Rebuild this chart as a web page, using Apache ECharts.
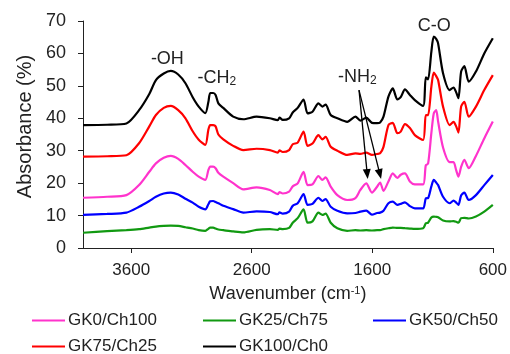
<!DOCTYPE html>
<html>
<head>
<meta charset="utf-8">
<script src="https://cdn.jsdelivr.net/npm/echarts@6/dist/echarts.min.js"></script>
<style>
  html, body { margin: 0; padding: 0; background: #fff; }
  #chart { width: 510px; height: 354px; }
</style>
</head>
<body>
<div id="chart"></div>
<script>
// wavenumbers (cm-1)
const wavenumbers = [4000, 3800, 3640, 3535, 3450, 3395, 3330, 3272, 3210, 3150, 3090, 3040, 2985, 2960, 2945, 2920, 2900, 2877, 2836, 2754,
  2670, 2560, 2450, 2384, 2370, 2343, 2290, 2260, 2219, 2170, 2137, 2096, 2047, 2014, 1987, 1945, 1890, 1808, 1740, 1699,
  1650, 1603, 1560, 1535, 1507, 1466, 1430, 1392, 1364, 1329, 1288, 1247, 1178, 1156, 1137, 1110, 1090, 1070, 1054, 1013,
  958, 926, 904, 885, 863, 836, 800, 740, 671, 600];

const gk0 = [15.5, 15.8, 16.3, 19.4, 23.5, 26.1, 27.8, 28.4, 27.5, 25.6, 23.5, 22, 21, 24, 25.1, 25.1, 24.6, 23.2, 22, 20,
  18.1, 18.7, 17.9, 16.6, 17.2, 16.8, 17.4, 19, 19.9, 23.5, 19.4, 19.6, 22.2, 21, 21.8, 18.9, 16.3, 14.8, 15.4, 17.9,
  19.9, 17.1, 18.9, 20.2, 17.6, 20.5, 23, 21.6, 22.6, 23, 20.5, 19.6, 19.6, 25.5, 26, 35.4, 41.5, 42.5, 39, 31,
  26.5, 26.5, 24, 22, 25, 27.2, 24.6, 28.4, 33.8, 39];

const gk25 = [4.7, 5.2, 5.5, 5.8, 6.3, 6.6, 6.8, 6.9, 6.8, 6.4, 6, 5.5, 5.3, 5.9, 6.3, 6.3, 6, 5.7, 5.5, 5.1,
  4.8, 5.6, 5.8, 5.6, 6, 5.8, 6.2, 7.8, 9.2, 11.9, 7.8, 8.2, 10.9, 10.2, 10.6, 7.8, 6.1, 5.3, 5.5, 5.4,
  5.5, 5.4, 5.5, 5.5, 5.8, 6.1, 6.3, 6.2, 6.2, 6.1, 6, 5.9, 6.1, 7.6, 7.8, 9.4, 9.7, 9.6, 9.5, 8.5,
  8.2, 8.3, 8.1, 7.8, 9.2, 9.3, 9.1, 9.7, 11.2, 13.3];

const gk50 = [10.2, 10.5, 10.9, 12.7, 14.5, 15.8, 16.8, 17.1, 16.5, 15.2, 14, 12.7, 11.9, 13.5, 14.4, 14.5, 14.2, 13.8, 13, 12,
  10.9, 11.3, 11.1, 10.4, 11, 10.6, 11.2, 13, 13.8, 16.6, 13.3, 13.6, 15.5, 14.5, 15.1, 12.7, 11.5, 10.7, 10.8, 11.2,
  11.5, 10.3, 10.8, 10.9, 11.5, 13.8, 14.3, 13.3, 13.6, 14.1, 12.9, 12.2, 12.2, 15.3, 15.4, 19, 21, 20.2, 19.4, 15.8,
  13.8, 14.6, 14, 13.3, 16.2, 17.1, 14.8, 16.3, 19.4, 22.5];

const gk75 = [28.2, 28.3, 28.6, 32.3, 37.5, 41, 43.2, 43.8, 42.5, 40, 36, 33.4, 31.8, 36.5, 37.9, 37.9, 37.5, 35, 33.5, 31.5,
  30.2, 30.6, 30.2, 29.4, 30.1, 29.6, 30.2, 32, 32.5, 35.9, 31.5, 32.2, 34.8, 33.5, 34.3, 31.2, 30, 28.7, 29.2, 29,
  29.4, 28.7, 29, 29.2, 31.2, 37.9, 38.6, 35.4, 35.9, 38.2, 37, 34.8, 33.3, 41, 41, 49.7, 54.1, 53, 51.8, 43.6,
  37.9, 38.9, 37.5, 35.6, 43.6, 45.1, 40.5, 43.6, 48.7, 53.3];

const gk100 = [37.9, 38, 38.4, 42.5, 47.5, 51.8, 53.8, 54.6, 53.5, 50.8, 46.5, 43.6, 41.6, 45, 47.8, 47.8, 47.2, 44.6, 43.2, 40.5,
  39.7, 40.5, 40, 39.4, 40.2, 39.5, 40, 41.8, 43.2, 45.8, 41.5, 42, 44.6, 43.6, 44.2, 41, 40, 38.9, 40.5, 39.3,
  40.2, 38.6, 38.5, 38.7, 40.5, 46.7, 49.2, 45.8, 46.5, 48.9, 47.2, 45.6, 43.8, 52.6, 52, 60.5, 65.2, 64.5, 63.1, 53.9,
  48.7, 49.5, 48, 46.2, 54.4, 56.1, 51.3, 54.4, 60, 64.7];

const seriesNames = ['GK0/Ch100', 'GK25/Ch75', 'GK50/Ch50', 'GK75/Ch25', 'GK100/Ch0'];
const seriesData = [gk0, gk25, gk50, gk75, gk100];
const seriesColors = ['#ff33cc', '#119911', '#0000ff', '#ff0000', '#000000'];

const xTicks = [600, 1600, 2600, 3600];
const yTicks = [0, 10, 20, 30, 40, 50, 60, 70];

// peak labels: [wavenumber, absorbance, text]
const peakLabels = [
    [3300, 58.3, '-OH'],
    [2890, 52.4, '-CH{sub|2}'],
    [1725, 52.7, '-NH{sub|2}'],
    [1085, 68.3, 'C-O']
];
// arrows for -NH2: [from, to]
const nhArrows = [
    [[1710, 48.7], [1642, 22.8]],
    [[1710, 48.7], [1537, 22.8]]
];

const FONT = 'Liberation Sans, Arial, sans-serif';
const TXT = '#222';

const myChart = echarts.init(document.getElementById('chart'));

const legendPos = [[32, 312], [203, 312], [373, 312], [32, 338], [203, 338]];

const series = seriesNames.map((name, i) => ({
    name: name,
    type: 'line',
    data: wavenumbers.map((w, j) => [w, seriesData[i][j]]),
    showSymbol: false,
    smooth: 0.25,
    lineStyle: { color: seriesColors[i], width: 2.2 },
    itemStyle: { color: seriesColors[i] },
    z: 2
}));

// annotations hang on the black series
series[4].markPoint = {
    silent: true,
    symbol: 'circle',
    symbolSize: 0,
    label: {
        show: true,
        position: 'inside',
        color: TXT,
        fontFamily: FONT,
        fontSize: 18,
        formatter: p => p.data.txt,
        rich: {
            sub: { fontSize: 12, fontFamily: FONT, color: TXT, verticalAlign: 'bottom', padding: [8, 0, 0, 0] }
        }
    },
    data: peakLabels.map(p => ({ coord: [p[0], p[1]], txt: p[2] }))
};
series[4].markLine = {
    silent: true,
    symbol: ['none', 'triangle'],
    symbolSize: [8, 10],
    label: { show: false },
    lineStyle: { color: '#000', width: 1.3, type: 'solid' },
    data: nhArrows.map(a => [{ coord: a[0] }, { coord: a[1] }])
};

const option = {
    animation: false,
    backgroundColor: '#fff',
    textStyle: { fontFamily: FONT, color: TXT },
    grid: { left: 83, right: 13, top: 21, bottom: 106 },
    legend: seriesNames.map((name, i) => ({
        data: [name],
        left: legendPos[i][0],
        top: legendPos[i][1],
        padding: 0,
        icon: 'rect',
        itemWidth: 33,
        itemHeight: 2,
        textStyle: { fontSize: 17, color: TXT, fontFamily: FONT, padding: [0, 0, 0, -2] }
    })),
    xAxis: {
        type: 'value',
        inverse: true,
        min: 600,
        max: 4000,
        interval: 1000,
        name: 'Wavenumber (cm{sup|-1})',
        nameLocation: 'middle',
        nameGap: 37,
        nameTextStyle: {
            fontSize: 18, color: TXT, fontFamily: FONT,
            rich: { sup: { fontSize: 11, color: TXT, fontFamily: FONT, verticalAlign: 'top', padding: [0, 0, 8, 0] } }
        },
        axisLine: { show: true, lineStyle: { color: '#222', width: 1 } },
        axisTick: { show: true, length: 5, inside: false, customValues: xTicks, lineStyle: { color: '#222' } },
        axisLabel: { fontSize: 17, color: TXT, fontFamily: FONT, margin: 14, customValues: xTicks, formatter: v => String(v) },
        splitLine: { show: false }
    },
    yAxis: {
        type: 'value',
        min: 0,
        max: 70,
        interval: 10,
        name: 'Absorbance (%)',
        nameLocation: 'middle',
        nameGap: 47,
        nameTextStyle: { fontSize: 20, color: TXT, fontFamily: FONT, padding: [0, 0, 0, 16] },
        axisLine: { show: true, lineStyle: { color: '#222', width: 1 } },
        axisTick: { show: true, length: 5, customValues: yTicks, lineStyle: { color: '#222' } },
        axisLabel: { fontSize: 18, color: TXT, fontFamily: FONT, margin: 17, customValues: yTicks },
        splitLine: { show: false }
    },
    series: series
};

window.onresize = () => {
    myChart.resize();
};
myChart.setOption(option);
</script>
</body>
</html>
